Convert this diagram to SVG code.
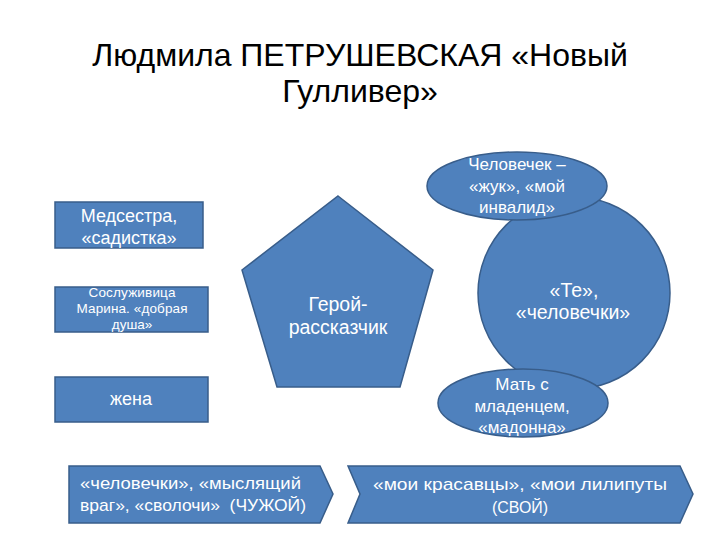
<svg xmlns="http://www.w3.org/2000/svg" width="720" height="540" viewBox="0 0 720 540">
<style>
.s{fill:#4F81BD;stroke:#385D8A;stroke-width:1.5}
.t{font-family:"Liberation Sans",Arial,sans-serif;fill:#fff;text-anchor:middle}
.title{font-family:"Liberation Sans",Arial,sans-serif;fill:#000;text-anchor:middle;font-size:32px}
</style>
<rect width="720" height="540" fill="#fff"/>
<g id="title">
<text class="title" x="360" y="66">Людмила ПЕТРУШЕВСКАЯ «Новый</text>
<text class="title" x="360" y="102">Гулливер»</text>
</g>
<g id="connectors"></g>
<g id="medsestra">
<rect class="s" x="55" y="202" width="148" height="46"/>
<text class="t" x="129" y="222" font-size="18">Медсестра,</text>
<text class="t" x="129" y="244" font-size="18">«садистка»</text>
</g>
<g id="sosluzhivica">
<rect class="s" x="55" y="287" width="153" height="45"/>
<text class="t" x="132" y="297" font-size="13.5" textLength="87" lengthAdjust="spacing">Сослуживица</text>
<text class="t" x="132" y="313" font-size="13.5" textLength="111" lengthAdjust="spacing">Марина. «добрая</text>
<text class="t" x="132" y="329" font-size="13.5">душа»</text>
</g>
<g id="zhena">
<rect class="s" x="55" y="377" width="153" height="45"/>
<text class="t" x="131" y="405" font-size="18">жена</text>
</g>
<g id="geroy">
<polygon class="s" points="338,196 433,270 400,387 277,387 242,270"/>
<text class="t" x="338" y="311" font-size="19.5">Герой-</text>
<text class="t" x="338" y="334" font-size="19.5">рассказчик</text>
</g>
<g id="te">
<circle class="s" cx="574" cy="293" r="96"/>
<text class="t" x="574" y="297" font-size="19.5">«Те»,</text>
<text class="t" x="573" y="319" font-size="19.5">«человечки»</text>
</g>
<g id="chelovechek">
<ellipse class="s" cx="517" cy="186" rx="90" ry="34"/>
<text class="t" x="517" y="170" font-size="17">Человечек –</text>
<text class="t" x="517" y="192" font-size="17">«жук», «мой</text>
<text class="t" x="517" y="213" font-size="17">инвалид»</text>
</g>
<g id="mat">
<ellipse class="s" cx="523" cy="403" rx="85" ry="34"/>
<text class="t" x="522" y="390" font-size="17">Мать с</text>
<text class="t" x="522" y="412" font-size="17">младенцем,</text>
<text class="t" x="522" y="433" font-size="17">«мадонна»</text>
</g>
<g id="chuzhoy">
<polygon class="s" points="69,466 320,466 333,494 320,523 69,523"/>
<text class="t" x="80" y="489" font-size="17" style="text-anchor:start" textLength="221" lengthAdjust="spacingAndGlyphs">«человечки», «мыслящий</text>
<text class="t" x="80" y="511" font-size="17" style="text-anchor:start" textLength="226" lengthAdjust="spacingAndGlyphs">враг», «сволочи»&#160; (ЧУЖОЙ)</text>
</g>
<g id="svoy">
<polygon class="s" points="348,466 680,466 693,494 680,523 348,523 360,494"/>
<text class="t" x="520" y="490" font-size="17" textLength="294" lengthAdjust="spacingAndGlyphs">«мои красавцы», «мои лилипуты</text>
<text class="t" x="520" y="513" font-size="17" textLength="56" lengthAdjust="spacingAndGlyphs">(СВОЙ)</text>
</g>
</svg>
